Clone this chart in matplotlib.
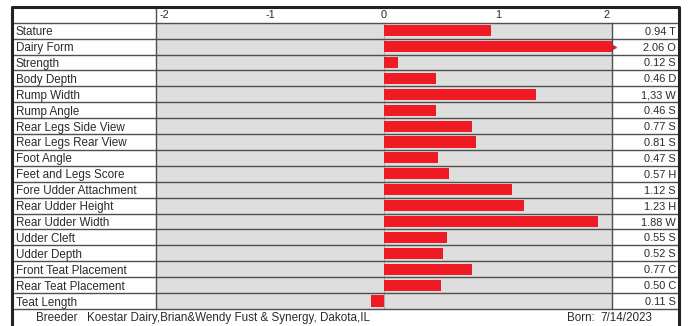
import matplotlib
matplotlib.use("Agg")
import matplotlib.pyplot as plt
import matplotlib.transforms as mtrans
from matplotlib.lines import Line2D

# ── data ──
traits = [
    "Stature", "Dairy Form", "Strength", "Body Depth", "Rump Width",
    "Rump Angle", "Rear Legs Side View", "Rear Legs Rear View", "Foot Angle",
    "Feet and Legs Score", "Fore Udder Attachment", "Rear Udder Height",
    "Rear Udder Width", "Udder Cleft", "Udder Depth", "Front Teat Placement",
    "Rear Teat Placement", "Teat Length",
]
values = [0.94, 2.06, 0.12, 0.46, 1.33, 0.46, 0.77, 0.81, 0.47,
          0.57, 1.12, 1.23, 1.88, 0.55, 0.52, 0.77, 0.50, -0.11]
value_text = ["0.94 T", "2.06 O", "0.12 S", "0.46 D", "1,33 W", "0.46 S",
              "0.77 S", "0.81 S", "0.47 S", "0.57 H", "1.12 S", "1.23 H",
              "1.88 W", "0.55 S", "0.52 S", "0.77 C", "0.50 C", "0.11 S"]
ticks = [-2, -1, 0, 1, 2]
breeder = "Koestar Dairy,Brian&Wendy Fust & Synergy, Dakota,IL"
born = "7/14/2023"

plt.rcParams["font.family"] = ["Liberation Sans", "DejaVu Sans"]
FS = 8.4      # row names, footer
FS_VAL = 7.9  # right column
TXT = "#2b2b2b"
LINE = "#4f4f4f"
RED = "#ee1b24"

W, H = 688, 326
fig = plt.figure(figsize=(W / 100, H / 100), dpi=100)
fig.patch.set_facecolor("white")

# pixel layout of the table
x_lab, x_plot0, x_plot1, x_right = 12, 156, 612, 679
y_top, y_head, y_foot = 7, 22.7, 309

def fx(px):
    return px / W

def fy(py):
    return 1 - py / H

ax = fig.add_axes([fx(x_plot0), fy(y_foot), fx(x_plot1) - fx(x_plot0),
                   fy(y_head) - fy(y_foot)])
ax.set_facecolor("#dedede")
n = len(traits)
ax.set_xlim(-2, 2)
ax.set_ylim(n - 0.5, -0.5)
for s in ax.spines.values():
    s.set_visible(False)

# bars
for i, v in enumerate(values):
    ax.barh(i, max(min(v, 2), -2), height=0.7, color=RED, zorder=3)
    if v > 2:
        ax.plot(2, i, marker=">", color=RED, markersize=6, zorder=3,
                clip_on=False)

ax.axvline(0, color="#b0b0b0", lw=0.8, zorder=2)

# header ticks (end labels nudged inward like the original)
ax.xaxis.tick_top()
ax.set_xticks(ticks)
ax.set_xticklabels([str(t) for t in ticks], fontsize=FS_VAL, color=TXT)
ax.tick_params(axis="x", length=0, pad=2)
labs = ax.get_xticklabels()
labs[0].set_horizontalalignment("left")
labs[0].set_transform(labs[0].get_transform() +
                      mtrans.ScaledTranslation(4 / 100, 0, fig.dpi_scale_trans))
labs[-1].set_horizontalalignment("right")
labs[-1].set_transform(labs[-1].get_transform() +
                       mtrans.ScaledTranslation(-3 / 100, 0, fig.dpi_scale_trans))
ax.set_yticks([])

# row text
tr = ax.get_yaxis_transform()
ax_w = x_plot1 - x_plot0
for i, (name, txt) in enumerate(zip(traits, value_text)):
    ax.text((x_lab + 4 - x_plot0) / ax_w, i, name, transform=tr,
            ha="left", va="center_baseline", fontsize=FS, color=TXT)
    ax.text((x_right - 3 - x_plot0) / ax_w, i, txt, transform=tr,
            ha="right", va="center_baseline", fontsize=FS_VAL, color=TXT)

# grid lines across the whole table
row_h = (y_foot - y_head) / n
for k in range(n + 1):
    yy = fy(y_head + k * row_h)
    fig.add_artist(Line2D([fx(x_lab), fx(x_right)], [yy, yy],
                          color=LINE, lw=1.0))
for xx, y0 in [(x_plot0, y_top), (x_plot1, y_head)]:
    fig.add_artist(Line2D([fx(xx), fx(xx)], [fy(y0), fy(y_foot)],
                          color=LINE, lw=1.0))

# outer frame (bottom edge runs off the image)
fig.add_artist(Line2D([fx(x_lab), fx(x_lab), fx(x_right), fx(x_right)],
                      [0, fy(y_top), fy(y_top), 0], color="#222222", lw=2.2))

# footer
fy_txt = fy(316.5)
fig.text(fx(36), fy_txt, "Breeder", fontsize=FS, color=TXT, va="center_baseline")
fig.text(fx(87), fy_txt, breeder, fontsize=FS, color=TXT, va="center_baseline")
fig.text(fx(567), fy_txt, "Born:", fontsize=FS, color=TXT, va="center_baseline")
fig.text(fx(600), fy_txt, born, fontsize=FS, color=TXT, va="center_baseline")

fig.savefig("out.png", dpi=100)
